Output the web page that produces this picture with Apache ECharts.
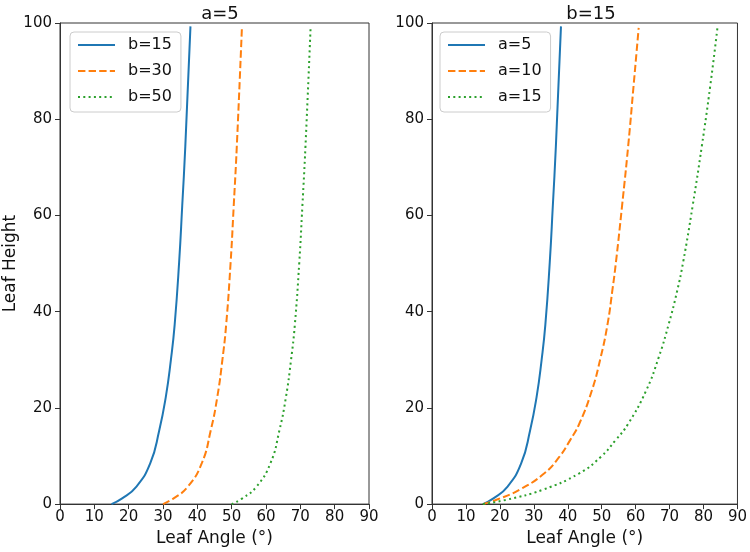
<!DOCTYPE html>
<html>
<head>
<meta charset="utf-8">
<script src="https://cdn.jsdelivr.net/npm/echarts@6/dist/echarts.min.js"></script>
<style>
html,body{margin:0;padding:0;background:#fff;}
#chart{width:750px;height:552px;}
</style>
</head>
<body>
<div id="chart"></div>
<script>
// Panel titles and series names
const panelTitles = ['a=5', 'b=15'];
const leftNames = ['b=15', 'b=30', 'b=50'];
const rightNames = ['a=5', 'a=10', 'a=15'];
const xTicks = [0, 10, 20, 30, 40, 50, 60, 70, 80, 90];
const yTicks = [0, 20, 40, 60, 80, 100];

// [leaf angle (deg), leaf height]
const a5_b15 = [[15,0],[18.1,1.2],[22.2,3.6],[26.3,8.5],[28.9,15.3],[30.8,22.2],[32.3,30],[33.4,37.3],[34.7,50.3],[35.6,62],[36.5,74.4],[38.0,99.3]];
const a5_b30 = [[30,0],[33.1,1.2],[37.2,3.6],[41.3,8.5],[43.9,15.3],[45.8,22.2],[47.3,30],[48.4,37.3],[49.7,50.3],[50.6,62],[51.5,74.4],[53.0,99.3]];
const a5_b50 = [[50,0],[53.1,1.2],[57.2,3.6],[61.3,8.5],[63.9,15.3],[65.8,22.2],[67.3,30],[68.4,37.3],[69.7,50.3],[70.6,62],[71.5,74.4],[73.0,99.3]];
const b15_a10 = [[15,0],[19.0,0.9],[25.8,3.0],[33.1,6.4],[37.5,9.8],[40.7,13.3],[43.4,16.7],[47.1,23.6],[49.7,30.5],[51.7,37.3],[53.1,44.2],[54.2,50.3],[56.0,62],[57.8,74.4],[59.4,87],[60.9,99.0]];
const b15_a15 = [[15,0],[21.9,0.9],[32.7,3.0],[43.4,6.4],[49.7,9.8],[54.1,13.3],[57.8,16.7],[63.1,23.6],[66.8,30.5],[69.7,37.3],[72.2,44.2],[74.0,50.3],[76.8,62],[79.5,74.4],[82.0,87],[84.1,99.0]];

const leftData = [a5_b15, a5_b30, a5_b50];
const rightData = [a5_b15, b15_a10, b15_a15];

const colors = ['#1f77b4', '#ff7f0e', '#2ca02c'];
const dashTypes = ['solid', [7.4, 3.2], [2, 3.3]];
const FONT = 'DejaVu Sans';
const axisColor = '#333';

function mkX(idx) {
  return {
    type: 'value', gridIndex: idx, min: 0, max: 90, interval: 10,
    name: 'Leaf Angle (°)', nameLocation: 'middle', nameGap: 22,
    nameTextStyle: {fontFamily: FONT, fontSize: 17, color: '#111'},
    axisLine: {show: true, lineStyle: {color: axisColor, width: 1}},
    axisTick: {show: true, inside: false, length: 5, lineStyle: {color: axisColor}},
    axisLabel: {fontFamily: FONT, fontSize: 15, color: '#111', margin: 6},
    splitLine: {show: false}
  };
}
function mkY(idx) {
  const ax = {
    type: 'value', gridIndex: idx, min: 0, max: 100, interval: 20,
    axisLine: {show: true, lineStyle: {color: axisColor, width: 1}},
    axisTick: {show: true, inside: false, length: 5, lineStyle: {color: axisColor}},
    axisLabel: {fontFamily: FONT, fontSize: 15, color: '#111', margin: 8},
    splitLine: {show: false}
  };
  if (idx === 0) {
    ax.name = 'Leaf Height';
    ax.nameLocation = 'middle';
    ax.nameGap = 39;
    ax.nameTextStyle = {fontFamily: FONT, fontSize: 17, color: '#111'};
  }
  return ax;
}
function mkSeries(names, datas, idx) {
  return names.map((n, i) => ({
    name: n, type: 'line', xAxisIndex: idx, yAxisIndex: idx,
    data: datas[i], symbol: 'none', showSymbol: false, smooth: 0.5,
    lineStyle: {color: colors[i], width: 2, type: dashTypes[i], cap: 'butt'},
    itemStyle: {color: colors[i]}
  }));
}
function mkLegend(names, left) {
  return {
    data: names, orient: 'vertical', left: left, top: 32,
    itemWidth: 37, itemHeight: 14, itemGap: 10,
    padding: [5, 9, 7, 7],
    borderColor: '#ccc', borderWidth: 1, borderRadius: 4,
    backgroundColor: 'rgba(255,255,255,0.85)',
    itemStyle: {opacity: 0},
    textStyle: {fontFamily: FONT, fontSize: 16, color: '#111', padding: [0, 0, 0, 8], lineHeight: 16}
  };
}

const chart = echarts.init(document.getElementById('chart'), null, {renderer: 'canvas'});
chart.setOption({
  animation: false,
  backgroundColor: '#fff',
  title: [
    {text: panelTitles[0], left: 215, top: 0, textAlign: 'center',
     textStyle: {fontFamily: FONT, fontSize: 18, fontWeight: 'normal', color: '#111'}},
    {text: panelTitles[1], left: 586, top: 0, textAlign: 'center',
     textStyle: {fontFamily: FONT, fontSize: 18, fontWeight: 'normal', color: '#111'}}
  ],
  grid: [
    {left: 60, top: 23, width: 309, height: 485, show: true, borderColor: axisColor, borderWidth: 1, backgroundColor: 'transparent'},
    {left: 432, top: 23, width: 308, height: 485, show: true, borderColor: axisColor, borderWidth: 1, backgroundColor: 'transparent'}
  ],
  xAxis: [mkX(0), mkX(1)],
  yAxis: [mkY(0), mkY(1)],
  legend: [mkLegend(leftNames, 70), mkLegend(rightNames, 440)],
  series: [...mkSeries(leftNames, leftData, 0), ...mkSeries(rightNames, rightData, 1)]
});
</script>
</body>
</html>
